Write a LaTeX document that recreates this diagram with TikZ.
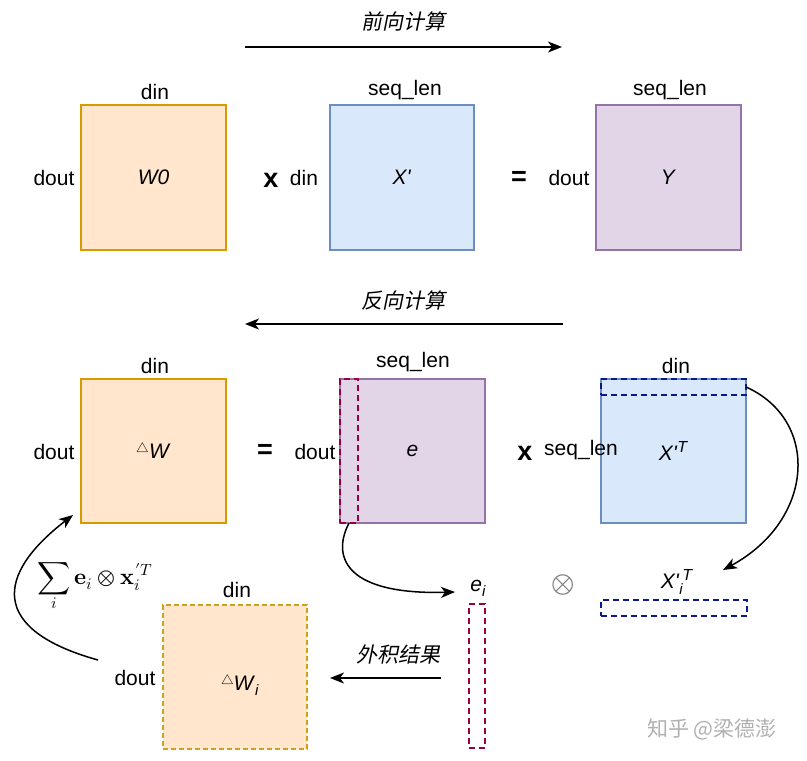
\documentclass[tikz,border=0pt]{standalone}
\usepackage{amsmath}
\usepackage{fontspec}
\usepackage{unicode-math}
\setmainfont{Liberation Sans}
\setmathfont{Latin Modern Math}
\newfontfamily\cjk[FakeSlant=0.2]{Noto Sans CJK SC}
\newfontfamily\cjkup{Noto Sans CJK SC}
\usetikzlibrary{arrows.meta}
\definecolor{ofill}{HTML}{FFE6CC}
\definecolor{odraw}{HTML}{D79B00}
\definecolor{bfill}{HTML}{DAE8FC}
\definecolor{bdraw}{HTML}{6C8EBF}
\definecolor{pfill}{HTML}{E1D5E7}
\definecolor{pdraw}{HTML}{9673A6}
\definecolor{gdash}{HTML}{D0A020}
\definecolor{mdash}{HTML}{99003D}
\definecolor{ndash}{HTML}{0A1A8C}
\definecolor{wm}{HTML}{B0B0B0}
\newcommand{\tri}{\raisebox{6pt}{\fontsize{13}{13}\selectfont$\triangle$}}
\newcommand{\pr}{\textquotesingle}
\begin{document}
\begin{tikzpicture}[x=1pt,y=-1pt,
  mat/.style={rectangle,inner sep=0pt,outer sep=0pt,line width=1.6pt,font=\fontsize{21}{25}\selectfont},
  obox/.style={mat,fill=ofill,draw=odraw},
  bbox/.style={mat,fill=bfill,draw=bdraw},
  pbox/.style={mat,fill=pfill,draw=pdraw},
  gbox/.style={mat,fill=ofill,draw=gdash,dashed,dash pattern=on 5pt off 3pt},
  mstrip/.style={rectangle,inner sep=0pt,outer sep=0pt,draw=mdash,line width=1.8pt,dash pattern=on 6pt off 4pt},
  nstrip/.style={rectangle,inner sep=0pt,outer sep=0pt,draw=ndash,line width=1.8pt,dash pattern=on 6pt off 4pt},
  lbl/.style={inner sep=0pt,font=\fontsize{21}{25}\selectfont},
  op/.style={inner sep=0pt,font=\fontsize{27}{30}\selectfont\bfseries},
  ttl/.style={inner sep=0pt,font=\fontsize{21}{25}\selectfont\cjk},
  arr/.style={line width=1.5pt,-{Stealth[length=14pt,width=11pt,inset=4pt]}}
]
\useasboundingbox (0,0) rectangle (807,761);

% ---------- forward ----------
\node[ttl] (ftitle) at (403,21) {前向计算};
\coordinate (fs) at (245,47);
\coordinate (fe) at (562,47);
\draw[arr] (fs) -- (fe);

\node[obox,minimum width=145pt,minimum height=145pt] (W0) at (153.5,177.5) {\textit{W0}};
\node[bbox,minimum width=144pt,minimum height=145pt] (X) at (402,177.5) {\textit{X\pr}};
\node[pbox,minimum width=145pt,minimum height=145pt] (Y) at (668.5,177.5) {\textit{Y}};

\node[lbl] (l1) at (155,92) {din};
\node[lbl] (l2) at (54,178) {dout};
\node[op] (o1) at (271,180) {x};
\node[lbl] (l3) at (304,178) {din};
\node[lbl] (l4) at (405,90) {seq\_len};
\node[op] (o2) at (519,178) {=};
\node[lbl] (l5) at (569,178) {dout};
\node[lbl] (l6) at (670,90) {seq\_len};

% ---------- backward ----------
\node[ttl] (btitle) at (403,300) {反向计算};
\coordinate (bs) at (563,324);
\coordinate (be) at (245,324);
\draw[arr] (bs) -- (be);

\node[obox,minimum width=145pt,minimum height=144pt] (dW) at (153.5,451) {\tri\textit{W}};
\node[pbox,minimum width=145pt,minimum height=144pt] (E) at (412.5,451) {\textit{e}};
\node[mstrip,minimum width=18pt,minimum height=144pt] (es) at (349,451) {};
\node[bbox,minimum width=145pt,minimum height=144pt] (XT) at (673.5,451) {\textit{X\pr}\raisebox{8pt}{\fontsize{16}{16}\selectfont\textit{T}}};
\node[nstrip,minimum width=145pt,minimum height=16pt] (xs) at (673.5,387) {};

\node[lbl] (l7) at (155,366) {din};
\node[lbl] (l8) at (54,452) {dout};
\node[op] (o3) at (265,451) {=};
\node[lbl] (l9) at (413,362) {seq\_len};
\node[lbl] (l10) at (315,452) {dout};
\node[op] (o4) at (525,453) {x};
\node[lbl] (l11) at (581,450) {seq\_len};
\node[lbl] (l12) at (676,366) {din};

% ---------- outer product ----------
\node[lbl] (eil) at (478,588) {\textit{e}\raisebox{-5pt}{\fontsize{15}{15}\selectfont\textit{i}}};
\node[mstrip,minimum width=16pt,minimum height=144pt] (eis) at (477,676) {};
\node[inner sep=0pt,text=gray,font=\fontsize{30}{32}\selectfont] (ot) at (563,585) {$\otimes$};
\node[lbl] (xil) at (677,582) {\textit{X\pr}\makebox[0pt][l]{\raisebox{-6pt}{\fontsize{15}{15}\selectfont\textit{i}}}\raisebox{8pt}{\fontsize{16}{16}\selectfont\hspace{3pt}\textit{T}}};
\node[nstrip,minimum width=146pt,minimum height=16pt] (xis) at (674,608) {};

\node[ttl] (otitle) at (398,655) {外积结果};
\coordinate (os) at (441,678);
\coordinate (oe) at (330,678);
\draw[arr] (os) -- (oe);

\node[gbox,minimum width=144pt,minimum height=144pt] (dWi) at (235,677) {};
\node[lbl] (dWil) at (240,685) {\tri\textit{W}\raisebox{-5pt}{\fontsize{15}{15}\selectfont\textit{i}}};
\node[lbl] (l13) at (237,590) {din};
\node[lbl] (l14) at (135,678) {dout};

\node[inner sep=0pt,font=\fontsize{23}{27}\selectfont] (sumf) at (95,587) {$\displaystyle\sum_i \symbf{e}_i \otimes \symbf{x}_i'^T$};

\coordinate (xa) at (723,570);
\coordinate (ea) at (455,592);
\coordinate (ss) at (98,660);
\coordinate (sa) at (73,515);
\draw[arr] (xs.east) .. controls (820,420) and (815,520) .. (xa);
\draw[arr] (es.south) .. controls (330,560) and (350,595) .. (ea);
\draw[arr] (ss) .. controls (-10,630) and (-5,575) .. (sa);

\node[inner sep=0pt,text=wm,font=\fontsize{21}{25}\selectfont\cjkup] (wmk) at (712,729) {知乎 @梁德澎};
\end{tikzpicture}
\end{document}
